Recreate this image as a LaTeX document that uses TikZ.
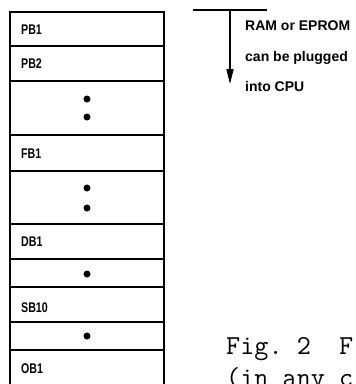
\documentclass[tikz,border=0pt]{standalone}
\usepackage{fontspec}
\newfontfamily\lblfont[FakeStretch=0.76]{Liberation Sans}
\newfontfamily\notefont{Liberation Sans}
\usetikzlibrary{arrows.meta}
\begin{document}
\begin{tikzpicture}[x=1pt,y=-1pt,
  blk/.style={font=\lblfont\bfseries\fontsize{14}{14}\selectfont, anchor=base west, inner sep=0pt},
  note/.style={font=\notefont\bfseries\fontsize{14}{14}\selectfont, anchor=base west, inner sep=0pt},
  figcaption/.style={font=\ttfamily\frenchspacing\fontsize{27.4}{27.4}\selectfont, anchor=base west, inner sep=0pt},
  memdot/.style={circle, fill=black, inner sep=0pt, minimum size=7pt},
  frame/.style={line width=1.7pt},
  divider/.style={line width=1.3pt},
  pointer/.style={line width=1.5pt}]
\useasboundingbox (0,0) rectangle (356,384);
\clip (0,0) rectangle (356,384);
% memory column
\draw[frame] (10,395) -- (10,12) -- (164,12) -- (164,395);
\foreach \yy in {46,81,135,171,224,259,287,322,350}
  \draw[divider] (10,\yy) -- (164,\yy);
% block labels
\node[blk] (pb1) at (21,34) {PB1};
\node[blk] (pb2) at (21,68.5) {PB2};
\node[blk] (fb1) at (21,158) {FB1};
\node[blk] (db1) at (21,246.5) {DB1};
\node[blk] (sb10) at (21,312) {SB10};
\node[blk] (ob1) at (21,373) {OB1};
% dots
\node[memdot] (d1) at (87,99) {};
\node[memdot] (d2) at (87,117) {};
\node[memdot] (d3) at (87,188) {};
\node[memdot] (d4) at (87,208) {};
\node[memdot] (d5) at (87,274) {};
\node[memdot] (d6) at (87,336) {};
% pointer
\coordinate (barL) at (193,10);
\coordinate (barR) at (267,10);
\coordinate (stem) at (230,10);
\coordinate (tip) at (230,84);
\draw[pointer] (barL) -- (barR);
\draw[pointer, -{Triangle[length=15pt,width=7pt]}] (stem) -- (tip);
\node[note] (n1) at (245,30) {RAM or EPROM};
\node[note] (n2) at (245,61) {can be plugged};
\node[note] (n3) at (245,91) {into CPU};
% caption
\node[figcaption] (c1) at (226,354) {Fig.\ 2\ \ F};
\node[figcaption] (c2) at (226,386) {(in any c};
\end{tikzpicture}
\end{document}
